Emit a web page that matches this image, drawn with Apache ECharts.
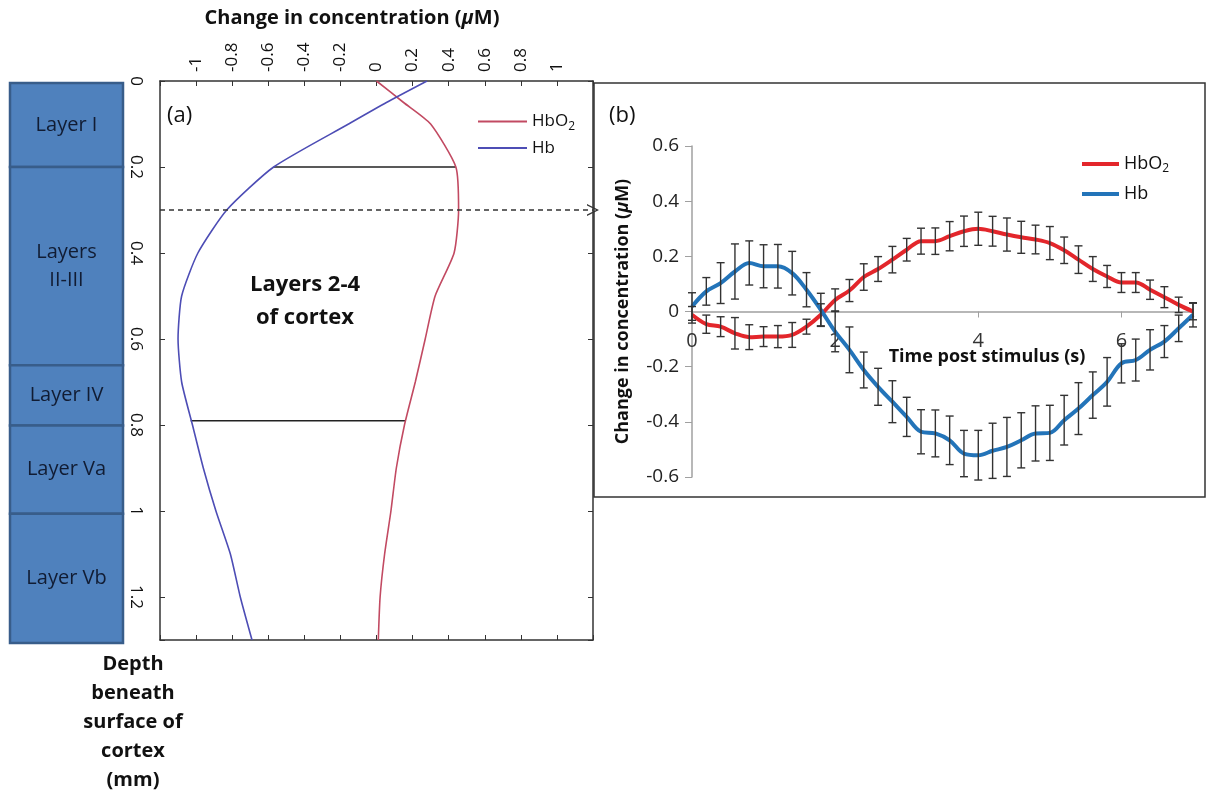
<!DOCTYPE html>
<html>
<head>
<meta charset="utf-8">
<script src="https://cdn.jsdelivr.net/npm/echarts@6/dist/echarts.min.js"></script>
<style>
  html, body { margin: 0; padding: 0; background: #fff; }
  #chart { width: 1206px; height: 795px; }
</style>
</head>
<body>
<div id="chart"></div>
<script>
// panel (a): depth profile
var depthA = [0, 0.05, 0.1, 0.2, 0.3, 0.4, 0.5, 0.6, 0.7, 0.8, 0.9, 1.0, 1.1, 1.2, 1.3];
var hbo2A = [0, 0.15, 0.30, 0.44, 0.455, 0.43, 0.325, 0.27, 0.215, 0.155, 0.11, 0.08, 0.045, 0.02, 0.01];
var hbA = [0.28, 0.055, -0.155, -0.57, -0.83, -0.99, -1.08, -1.10, -1.08, -1.02, -0.96, -0.89, -0.81, -0.755, -0.69];

// horizontal marker lines between the curves
var bracketDepth = [0.2, 0.79];
var bracketLeft = [-0.57, -1.03];
var bracketRight = [0.44, 0.16];
var arrowDepth = 0.3;

// cortical layers
var layerNames = ['Layer I', 'Layers\nII-III', 'Layer IV', 'Layer Va', 'Layer Vb'];
var layerEdges = [0, 0.195, 0.655, 0.795, 1.0, 1.3];

// panel (b): time course
var timeB = [0, 0.2, 0.4, 0.6, 0.8, 1.0, 1.2, 1.4, 1.6, 1.8, 2.0, 2.2, 2.4, 2.6, 2.8, 3.0, 3.2, 3.4,
             3.6, 3.8, 4.0, 4.2, 4.4, 4.6, 4.8, 5.0, 5.2, 5.4, 5.6, 5.8, 6.0, 6.2, 6.4, 6.6, 6.8, 7.0];
var hbo2B = [-0.012, -0.046, -0.055, -0.079, -0.093, -0.091, -0.091, -0.085, -0.055, -0.012, 0.042, 0.076,
             0.125, 0.154, 0.188, 0.224, 0.255, 0.255, 0.273, 0.291, 0.300, 0.291, 0.279, 0.269,
             0.261, 0.248, 0.222, 0.188, 0.154, 0.127, 0.105, 0.105, 0.079, 0.052, 0.024, 0.0];
var hbo2Err = [0.03, 0.033, 0.036, 0.057, 0.045, 0.036, 0.04, 0.045, 0.027, 0.04, 0.04, 0.04,
               0.048, 0.045, 0.048, 0.041, 0.047, 0.048, 0.053, 0.055, 0.06, 0.054, 0.06, 0.058,
               0.052, 0.06, 0.048, 0.05, 0.045, 0.04, 0.036, 0.036, 0.035, 0.038, 0.028, 0.03];
var hbB = [0.018, 0.073, 0.103, 0.145, 0.176, 0.164, 0.164, 0.139, 0.079, 0.006, -0.073, -0.139,
           -0.212, -0.273, -0.327, -0.382, -0.436, -0.442, -0.467, -0.515, -0.521, -0.505, -0.491, -0.467,
           -0.442, -0.440, -0.394, -0.352, -0.303, -0.255, -0.188, -0.176, -0.139, -0.109, -0.061, -0.012];
var hbErr = [0.05, 0.05, 0.074, 0.1, 0.08, 0.078, 0.079, 0.079, 0.062, 0.06, 0.073, 0.083,
             0.065, 0.067, 0.076, 0.071, 0.08, 0.085, 0.088, 0.084, 0.09, 0.1, 0.107, 0.1,
             0.1, 0.1, 0.09, 0.094, 0.084, 0.088, 0.071, 0.076, 0.073, 0.058, 0.048, 0.044];
var yMinB = -0.6, yMaxB = 0.6;

var FONT = '"Open Sans", "DejaVu Sans", sans-serif';
var frameColor = '#333';
var gridBHeight = 331;

var chart = echarts.init(document.getElementById('chart'));

function pairs(xs, ys) {
    return xs.map(function (x, i) { return [x, ys[i]]; });
}

function errData(vals, errs) {
    return timeB.map(function (t, i) { return [t, vals[i] - errs[i], vals[i] + errs[i]]; });
}

function renderErr(params, api) {
    var t = api.value(0);
    var lo = api.coord([t, api.value(1)]);
    var hi = api.coord([t, api.value(2)]);
    var w = 4;
    var st = { stroke: '#333', lineWidth: 1.4 };
    return {
        type: 'group',
        children: [
            { type: 'line', shape: { x1: lo[0], y1: lo[1], x2: hi[0], y2: hi[1] }, style: st },
            { type: 'line', shape: { x1: lo[0] - w, y1: lo[1], x2: lo[0] + w, y2: lo[1] }, style: st },
            { type: 'line', shape: { x1: hi[0] - w, y1: hi[1], x2: hi[0] + w, y2: hi[1] }, style: st }
        ]
    };
}

function renderLayer(params, api) {
    var p0 = api.coord([0, api.value(1)]);
    var p1 = api.coord([1, api.value(2)]);
    return {
        type: 'group',
        children: [
            {
                type: 'rect',
                shape: { x: p0[0], y: p0[1], width: p1[0] - p0[0], height: p1[1] - p0[1] },
                style: { fill: '#4f81bd', stroke: '#385d8a', lineWidth: 2.5 }
            },
            {
                type: 'text',
                x: (p0[0] + p1[0]) / 2,
                y: (p0[1] + p1[1]) / 2,
                style: {
                    text: layerNames[params.dataIndex],
                    font: '20px ' + FONT,
                    fill: '#111c33',
                    align: 'center',
                    verticalAlign: 'middle',
                    lineHeight: 28
                }
            }
        ]
    };
}

var legendRich = { sub: { fontSize: 12, padding: [10, 0, 0, 0] } };
function legendFmt(name) { return name === 'HbO2' ? 'HbO{sub|2}' : name; }

// open chevron arrow head (points up, rotated by markLine)
var chevron = 'path://M0,12 L6,0 L12,12 L10.6,12 L6,2.8 L1.4,12 Z';

var option = {
    animation: false,
    backgroundColor: '#fff',
    grid: [
        { left: 160, top: 81, width: 433, height: 559 },
        { left: 692, top: 146, width: 501, height: gridBHeight },
        { left: 10, top: 83, width: 113, height: 560 }
    ],
    xAxis: [
        {
            gridIndex: 0, type: 'value', position: 'top', min: -1.2, max: 1.2, interval: 0.2,
            axisLine: { onZero: false, lineStyle: { color: frameColor, width: 1.5 } },
            axisTick: { inside: true, length: 5, lineStyle: { color: frameColor } },
            splitLine: { show: false },
            axisLabel: {
                rotate: -90, margin: 9, fontSize: 17, color: '#111', fontFamily: FONT,
                formatter: function (v) { return Math.abs(v) > 1.01 ? '' : String(+v.toFixed(1)); }
            }
        },
        {
            gridIndex: 0, type: 'value', position: 'bottom', min: -1.2, max: 1.2, interval: 0.2,
            axisLine: { onZero: false, lineStyle: { color: frameColor, width: 1.5 } },
            axisTick: { inside: true, length: 5, lineStyle: { color: frameColor } },
            splitLine: { show: false },
            axisLabel: { show: false }
        },
        {
            gridIndex: 1, type: 'value', position: 'bottom', min: 0, max: 7, interval: 2,
            // sit the time axis on the zero line
            offset: -gridBHeight * (0 - yMinB) / (yMaxB - yMinB),
            axisLine: { onZero: false, lineStyle: { color: '#a0a0a0', width: 1.5 } },
            axisTick: { length: 6, lineStyle: { color: '#a0a0a0' } },
            splitLine: { show: false },
            axisLabel: {
                margin: 20, fontSize: 20, color: '#333', fontFamily: FONT,
                formatter: function (v) { return v > 6.5 ? '' : String(v); }
            }
        },
        { gridIndex: 2, type: 'value', min: 0, max: 1, show: false }
    ],
    yAxis: [
        {
            gridIndex: 0, type: 'value', inverse: true, min: 0, max: 1.3, interval: 0.2,
            axisLine: { onZero: false, lineStyle: { color: frameColor, width: 1.5 } },
            axisTick: { inside: true, length: 5, lineStyle: { color: frameColor } },
            splitLine: { show: false },
            axisLabel: {
                rotate: -90, margin: 16, fontSize: 17, color: '#111', fontFamily: FONT,
                formatter: function (v) { return v > 1.25 ? '' : String(+v.toFixed(1)); }
            }
        },
        {
            gridIndex: 0, type: 'value', position: 'right', inverse: true, min: 0, max: 1.3, interval: 0.2,
            axisLine: { show: true, onZero: false, lineStyle: { color: frameColor, width: 1.5 } },
            axisTick: { show: true, inside: true, length: 5, lineStyle: { color: frameColor } },
            splitLine: { show: false },
            axisLabel: { show: false }
        },
        {
            gridIndex: 1, type: 'value', min: yMinB, max: yMaxB, interval: 0.2,
            axisLine: { show: true, onZero: false, lineStyle: { color: '#a0a0a0', width: 1.5 } },
            axisTick: { show: true, length: 7, lineStyle: { color: '#a0a0a0' } },
            splitLine: { show: false },
            axisLabel: {
                margin: 13, fontSize: 19, color: '#222', fontFamily: FONT,
                formatter: function (v) { return String(+v.toFixed(1)); }
            },
            name: 'Change in concentration ({it|\u03bc}M)',
            nameLocation: 'middle',
            nameGap: 60,
            nameTextStyle: {
                fontSize: 18, fontWeight: 'bold', color: '#111', fontFamily: FONT,
                rich: { it: { fontSize: 18, fontWeight: 'bold', fontStyle: 'italic', fontFamily: FONT, color: '#111' } }
            }
        },
        { gridIndex: 2, type: 'value', inverse: true, min: 0, max: 1.3, show: false }
    ],
    legend: [
        {
            orient: 'vertical', left: 473, top: 108, icon: 'rect', itemWidth: 49, itemHeight: 2, itemGap: 7,
            data: ['HbO2', 'Hb'], formatter: legendFmt,
            textStyle: { fontSize: 17, color: '#111', fontFamily: FONT, rich: legendRich }
        },
        {
            orient: 'vertical', left: 1077, top: 150, icon: 'rect', itemWidth: 37, itemHeight: 4, itemGap: 10,
            data: ['HbO2 ', 'Hb '], formatter: function (n) { return legendFmt(n.trim()); },
            textStyle: { fontSize: 18, color: '#111', fontFamily: FONT, rich: legendRich }
        }
    ],
    graphic: [
        {
            type: 'rect', shape: { x: 594, y: 83, width: 611, height: 414 },
            style: { fill: 'none', stroke: frameColor, lineWidth: 1.5 }, z: 10
        },
        {
            type: 'text', x: 352, y: 18,
            style: {
                text: 'Change in concentration ({it|\u03bc}M)', font: 'bold 20px ' + FONT, fill: '#111',
                align: 'center', verticalAlign: 'middle',
                rich: { it: { fontSize: 20, fontWeight: 'bold', fontStyle: 'italic', fontFamily: FONT, fill: '#111' } }
            }
        },
        {
            type: 'text', x: 167, y: 116,
            style: { text: '(a)', font: '22px ' + FONT, fill: '#111', align: 'left', verticalAlign: 'middle' }
        },
        {
            type: 'text', x: 609, y: 116,
            style: { text: '(b)', font: '22px ' + FONT, fill: '#111', align: 'left', verticalAlign: 'middle' }
        },
        {
            type: 'text', x: 305, y: 301,
            style: {
                text: 'Layers 2-4\nof cortex', font: 'bold 22px ' + FONT, fill: '#111',
                align: 'center', verticalAlign: 'middle', lineHeight: 33
            }
        },
        {
            type: 'text', x: 133, y: 722,
            style: {
                text: 'Depth\nbeneath\nsurface of\ncortex\n(mm)', font: 'bold 20px ' + FONT, fill: '#111',
                align: 'center', verticalAlign: 'middle', lineHeight: 29
            }
        },
        {
            type: 'text', x: 987, y: 357,
            style: {
                text: 'Time post stimulus (s)', font: 'bold 18px ' + FONT, fill: '#111',
                align: 'center', verticalAlign: 'middle'
            }
        }
    ],
    series: [
        {
            type: 'custom', name: 'layers', xAxisIndex: 3, yAxisIndex: 3,
            data: layerNames.map(function (n, i) { return [0, layerEdges[i], layerEdges[i + 1]]; }),
            encode: { x: 0, y: [1, 2] },
            renderItem: renderLayer, silent: true
        },
        {
            type: 'line', name: 'HbO2', xAxisIndex: 0, yAxisIndex: 0,
            data: pairs(hbo2A, depthA), symbol: 'none', smooth: 0.2,
            lineStyle: { color: '#c24a62', width: 1.6 }, itemStyle: { color: '#c24a62' }
        },
        {
            type: 'line', name: 'Hb', xAxisIndex: 0, yAxisIndex: 0,
            data: pairs(hbA, depthA), symbol: 'none', smooth: 0.2,
            lineStyle: { color: '#4d4db5', width: 1.6 }, itemStyle: { color: '#4d4db5' },
            markLine: {
                silent: true, symbol: ['none', chevron], symbolSize: [12, 12],
                label: { show: false },
                lineStyle: { color: '#333', type: [5, 4], width: 1.5 },
                itemStyle: { color: '#333' },
                data: [{ yAxis: arrowDepth }]
            }
        },
        {
            type: 'line', name: 'bracket1', xAxisIndex: 0, yAxisIndex: 0,
            data: [[bracketLeft[0], bracketDepth[0]], [bracketRight[0], bracketDepth[0]]],
            symbol: 'none', lineStyle: { color: '#222', width: 1.5 }, z: 1
        },
        {
            type: 'line', name: 'bracket2', xAxisIndex: 0, yAxisIndex: 0,
            data: [[bracketLeft[1], bracketDepth[1]], [bracketRight[1], bracketDepth[1]]],
            symbol: 'none', lineStyle: { color: '#222', width: 1.5 }, z: 1
        },
        {
            type: 'line', name: 'HbO2 ', xAxisIndex: 2, yAxisIndex: 2,
            data: pairs(timeB, hbo2B), symbol: 'none', smooth: 0.35,
            lineStyle: { color: '#e3262b', width: 4 }, itemStyle: { color: '#e3262b' }
        },
        {
            type: 'line', name: 'Hb ', xAxisIndex: 2, yAxisIndex: 2,
            data: pairs(timeB, hbB), symbol: 'none', smooth: 0.35,
            lineStyle: { color: '#2374b9', width: 4 }, itemStyle: { color: '#2374b9' }
        },
        {
            type: 'custom', name: 'errHbO2', xAxisIndex: 2, yAxisIndex: 2,
            data: errData(hbo2B, hbo2Err), encode: { x: 0, y: [1, 2] },
            renderItem: renderErr, z: 5, silent: true
        },
        {
            type: 'custom', name: 'errHb', xAxisIndex: 2, yAxisIndex: 2,
            data: errData(hbB, hbErr), encode: { x: 0, y: [1, 2] },
            renderItem: renderErr, z: 5, silent: true
        }
    ]
};

chart.setOption(option);
</script>
</body>
</html>
